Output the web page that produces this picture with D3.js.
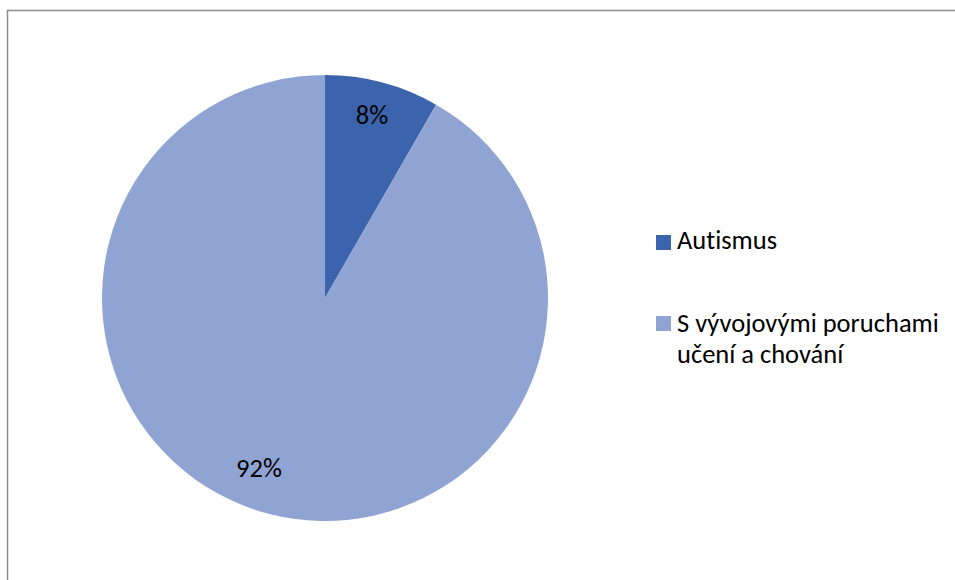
<!DOCTYPE html>
<html><head><meta charset="utf-8">
<script src="https://cdn.jsdelivr.net/npm/d3@7"></script>
<style>body{margin:0;background:#fff}svg{display:block}text{font-variant-ligatures:none;font-feature-settings:"liga" 0}</style>
</head><body>
<svg id="c" width="955" height="580"></svg>
<script>
const categories = ["Autismus", "S vývojovými poruchami učení a chování"];
const values = [8.3, 91.7];
const pctLabels = ["8%", "92%"];
const legendLines = [["Autismus"], ["S vývojovými poruchami", "učení a chování"]];
const colors = ["#3C64AC", "#90A4D4"];

const svg = d3.select("#c");
const font = "Carlito, 'Open Sans', 'Noto Sans', sans-serif";
const fs = 26.5;
// border
svg.append("path").attr("d","M7.5,580 L7.5,10.5 L955,10.5").attr("fill","none").attr("stroke","#8c8c8c").attr("stroke-width",1.5);

const cx = 325, cy = 298, r = 223;
const pie = d3.pie().sort(null).value(d => d)(values);
const arc = d3.arc().innerRadius(0).outerRadius(r);
const g = svg.append("g").attr("transform", `translate(${cx},${cy})`);
g.selectAll("path").data(pie).join("path").attr("d", arc).attr("fill", (d,i)=>colors[i]);

const labelPos = [[47,-183],[-66,170]];
g.selectAll("text").data(pie).join("text")
  .attr("x",(d,i)=>labelPos[i][0]).attr("y",(d,i)=>labelPos[i][1])
  .attr("text-anchor","middle").attr("dominant-baseline","central")
  .attr("font-family",font).attr("font-size",fs).attr("fill","#000")
  .text((d,i)=>pctLabels[i]);

const leg = svg.append("g");
const legY = [242, 323];
const legBase = [249, 332];
categories.forEach((c,i)=>{
  leg.append("rect").attr("x",656).attr("y",legY[i]-7).attr("width",15).attr("height",15).attr("fill",colors[i]);
  legendLines[i].forEach((t,j)=>{
    leg.append("text").attr("x",677).attr("y",legBase[i]+j*31)
      .attr("font-family",font).attr("font-size",fs).attr("fill","#000").text(t);
  });
});
</script>
</body></html>
